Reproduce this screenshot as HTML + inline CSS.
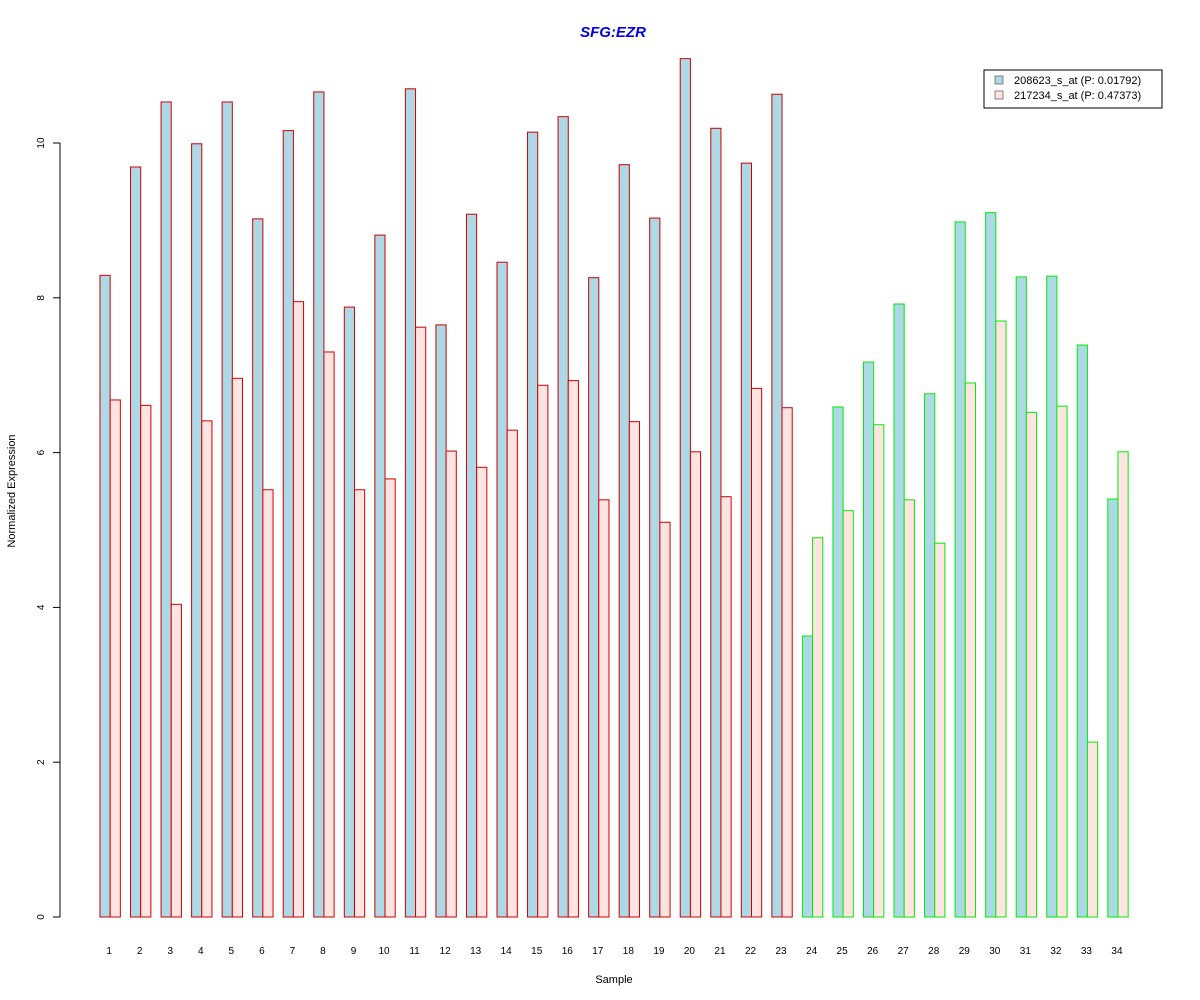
<!DOCTYPE html>
<html><head><meta charset="utf-8"><style>body{margin:0;background:#fff}svg{display:block;font-family:"Liberation Sans",Arial,sans-serif}</style></head>
<body>
<svg id="c" width="1200" height="1000">
<text x="613" y="37" text-anchor="middle" font-size="15" font-weight="bold" font-style="italic" fill="#0000ee">SFG:EZR</text>
<text x="614" y="983" text-anchor="middle" font-size="11">Sample</text>
<text transform="translate(15,491) rotate(-90)" text-anchor="middle" font-size="11">Normalized Expression</text>
<g id="bars"></g>
<g id="yaxis"></g>
<g id="xlabels"></g>
<g>
<rect x="984" y="70" width="178" height="38" fill="#fff" stroke="#000"/>
<g><rect x="995" y="76" width="8" height="8" fill="#add8e6" stroke="#555" stroke-width="0.7"/><text x="1014" y="84" font-size="11">208623_s_at (P: 0.01792)</text></g>
<g><rect x="995" y="91" width="8" height="8" fill="#ffe4e1" stroke="#555" stroke-width="0.7"/><text x="1014" y="99" font-size="11">217234_s_at (P: 0.47373)</text></g>
</g>
</svg>
<script>
const categories=[1,2,3,4,5,6,7,8,9,10,11,12,13,14,15,16,17,18,19,20,21,22,23,24,25,26,27,28,29,30,31,32,33,34];
const series1=[8.29,9.69,10.53,9.99,10.53,9.02,10.16,10.66,7.88,8.81,10.70,7.65,9.08,8.46,10.14,10.34,8.26,9.72,9.03,11.09,10.19,9.74,10.63,3.63,6.59,7.17,7.92,6.76,8.98,9.10,8.27,8.28,7.39,5.40];
const series2=[6.68,6.61,4.04,6.41,6.96,5.52,7.95,7.30,5.52,5.66,7.62,6.02,5.81,6.29,6.87,6.93,5.39,6.40,5.10,6.01,5.43,6.83,6.58,4.90,5.25,6.36,5.39,4.83,6.90,7.70,6.52,6.60,2.26,6.01];
const groupCount=23;
const yTicks=[0,2,4,6,8,10];
const NS='http://www.w3.org/2000/svg';
const y=v=>917-v*77.4;
const unit=10.18, x0=89.8;
function mk(t,a,p){const e=document.createElementNS(NS,t);for(const k in a)e.setAttribute(k,a[k]);p.appendChild(e);return e;}
const bars=document.getElementById('bars'),xl=document.getElementById('xlabels'),ya=document.getElementById('yaxis');
categories.forEach((c,i)=>{
  const gx=x0+i*3*unit+unit;
  const stroke=i<groupCount?'#d00000':'#00ee00';
  const b1=mk('rect',{x:gx,y:y(series1[i]),width:unit,height:series1[i]*77.4,fill:'#add8e6',stroke:stroke,'stroke-width':1},bars);
  
  
  const b2=mk('rect',{x:gx+unit,y:y(series2[i]),width:unit,height:series2[i]*77.4,fill:'#ffe4e1',stroke:stroke,'stroke-width':1},bars);
  
  
  const t=mk('text',{x:gx+unit-1,y:954,'text-anchor':'middle','font-size':10},xl);
  t.textContent=c;
  
  
});
mk('line',{x1:60,x2:60,y1:y(10),y2:y(0),stroke:'#000'},ya);
yTicks.forEach(v=>{
  mk('line',{x1:53,x2:60,y1:y(v),y2:y(v),stroke:'#000'},ya);
  const t=mk('text',{transform:`translate(44,${y(v)}) rotate(-90)`,'text-anchor':'middle','font-size':10},ya);
  t.textContent=v;
  
  
});
</script>
</body></html>
